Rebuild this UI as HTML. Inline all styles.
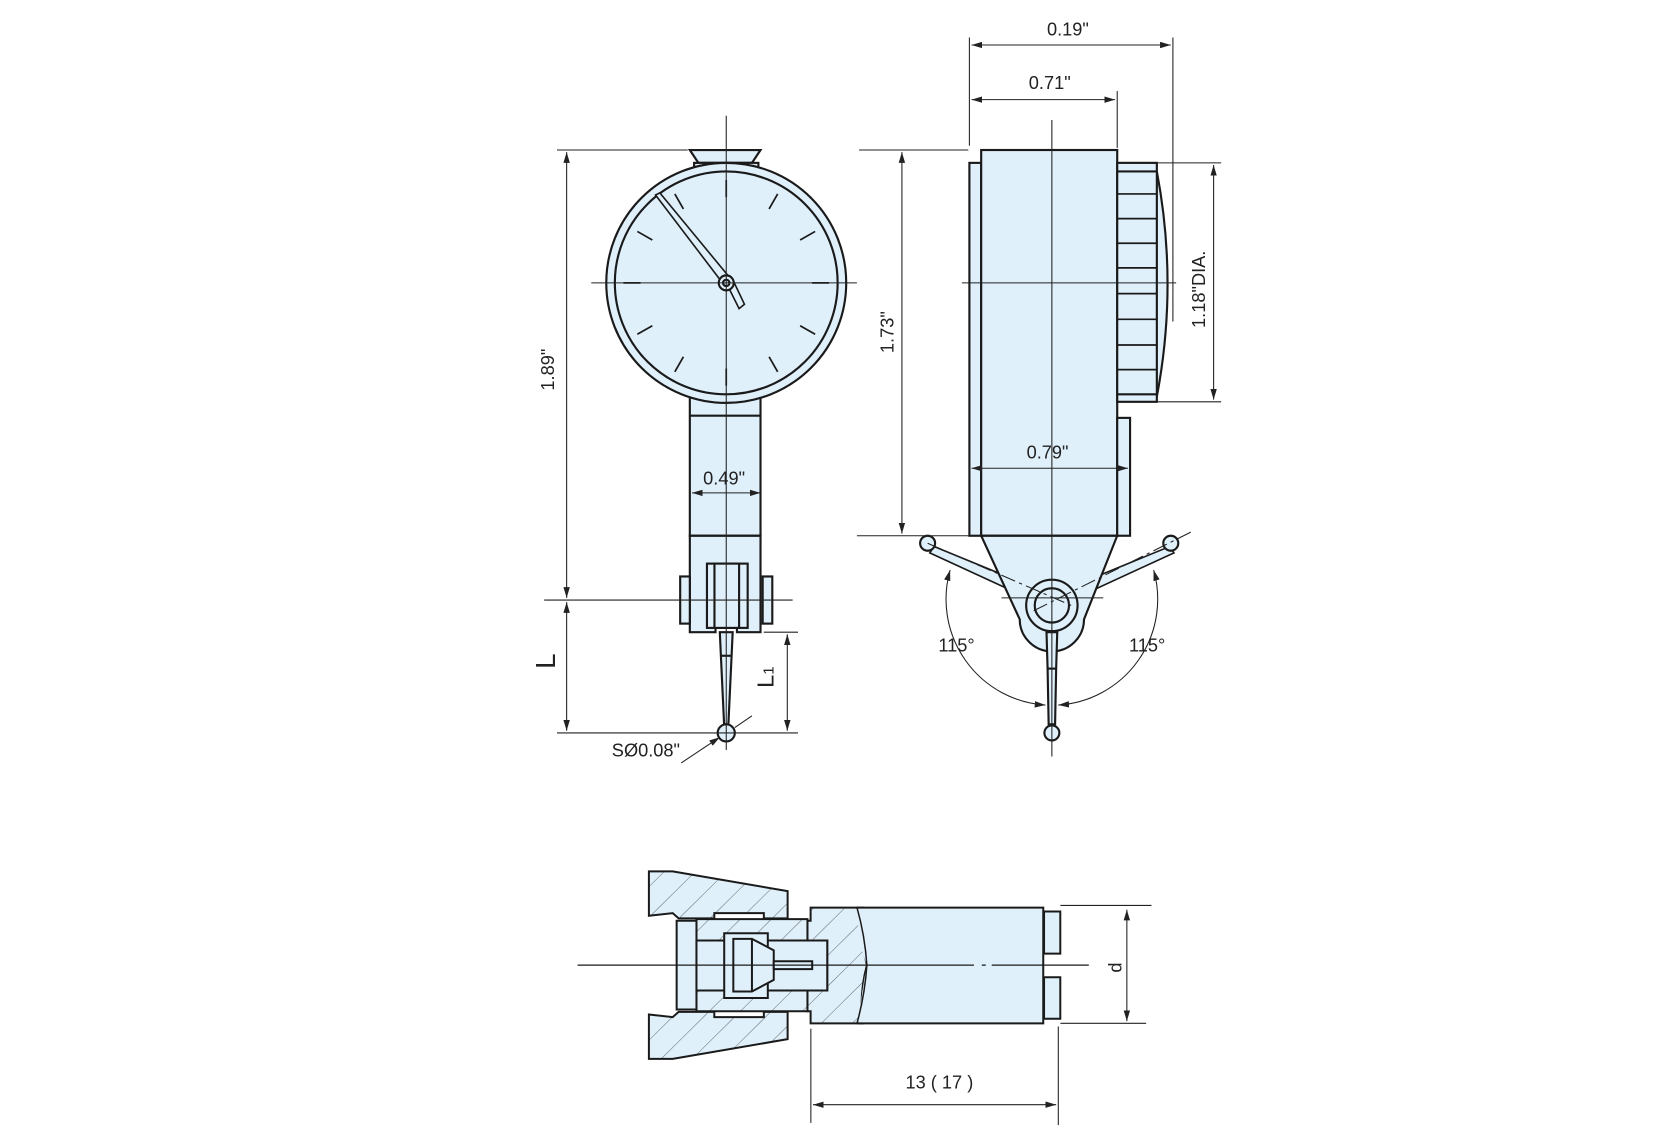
<!DOCTYPE html>
<html><head><meta charset="utf-8"><style>
html,body{margin:0;padding:0;background:#fff;}
svg{display:block}
text{font-family:"Liberation Sans",sans-serif;fill:#222}
</style></head><body>
<svg width="1671" height="1139" viewBox="0 0 1560 1063" preserveAspectRatio="none" xmlns="http://www.w3.org/2000/svg">
<defs>
<marker id="a" viewBox="0 0 10 6" refX="10" refY="3" markerWidth="10" markerHeight="6" orient="auto-start-reverse" markerUnits="userSpaceOnUse"><path d="M0,0 L10,3 L0,6 Z" fill="#222"/></marker>
<pattern id="h" patternUnits="userSpaceOnUse" width="60" height="60" patternTransform="rotate(40)"><rect width="60" height="60" fill="#dff0fb"/><line x1="0" y1="0" x2="0" y2="60" stroke="#333" stroke-width="2"/></pattern>
</defs>
<g stroke="#1a1a1a" fill="#dff0fb" stroke-width="2">
<!-- LEFT VIEW -->
<path d="M644,140 L710,140 L702,152 L652,152 Z"/>
<rect x="648" y="152" width="60" height="8"/>
<rect x="644" y="370" width="66" height="130"/>
<line x1="644" y1="388" x2="710" y2="388"/>
<circle cx="678" cy="264" r="112"/>
<circle cx="678" cy="264" r="104"/>
<g stroke-width="1.6">
<line x1="678" y1="168" x2="678" y2="184"/><line x1="726" y1="181" x2="718" y2="195"/><line x1="761" y1="216" x2="747" y2="224"/><line x1="774" y1="264" x2="758" y2="264"/><line x1="761" y1="312" x2="747" y2="304"/><line x1="726" y1="347" x2="718" y2="333"/><line x1="678" y1="360" x2="678" y2="344"/><line x1="630" y1="347" x2="638" y2="333"/><line x1="595" y1="312" x2="609" y2="304"/><line x1="582" y1="264" x2="598" y2="264"/><line x1="595" y1="216" x2="609" y2="224"/><line x1="630" y1="181" x2="638" y2="195"/>
</g>
<path d="M612,182 L616,180 L682,260 L676,266 Z" stroke-width="1.5"/>
<path d="M680,268 L685,263 L695,284 L690,288 Z" stroke-width="1.5"/>
<circle cx="678" cy="264" r="7"/><circle cx="678" cy="264" r="3"/>
<path d="M644,500 L710,500 L710,590 L688,590 L688,585 L668,585 L668,590 L644,590 Z"/>
<rect x="635" y="538" width="9" height="44"/>
<rect x="712" y="538" width="9" height="44"/>
<rect x="660" y="526" width="38" height="60"/>
<rect x="667" y="526" width="23" height="60"/>
<path d="M672,590 L684,590 L683,612 L680,676 L676,676 L673,612 Z"/>
<line x1="673" y1="612" x2="683" y2="612"/>
<circle cx="678" cy="684" r="8"/>
<!-- RIGHT VIEW -->
<rect x="905" y="152" width="11" height="348"/>
<rect x="916" y="140" width="127" height="360"/>
<path d="M1080,160 Q1100,265 1080,370" fill="#dff0fb"/>
<rect x="1043" y="152" width="37" height="223"/>
<line x1="1043" y1="160" x2="1080" y2="160"/><line x1="1043" y1="368" x2="1080" y2="368"/>
<g stroke-width="1.6"><line x1="1043" y1="181" x2="1080" y2="181"/><line x1="1043" y1="204" x2="1080" y2="204"/><line x1="1043" y1="227" x2="1080" y2="227"/><line x1="1043" y1="250" x2="1080" y2="250"/><line x1="1043" y1="274" x2="1080" y2="274"/><line x1="1043" y1="298" x2="1080" y2="298"/><line x1="1043" y1="322" x2="1080" y2="322"/><line x1="1043" y1="345" x2="1080" y2="345"/></g>
<rect x="1043" y="390" width="12" height="110"/>
<path d="M872,510 L945,540 L942,550 L868,516 Z" stroke-width="1.5"/>
<path d="M1092,510 L1019,540 L1022,550 L1096,516 Z" stroke-width="1.5"/>
<circle cx="866" cy="507" r="7"/><circle cx="1093" cy="507" r="7"/>
<path d="M916,500 L1043,500 L1012,578 A30,30 0 0 1 952,578 Z"/>
<circle cx="982" cy="565" r="24"/><circle cx="982" cy="565" r="16"/>
<path d="M977,590 L987,590 L986,624 L985,676 L979,676 L978,624 Z"/>
<line x1="978" y1="624" x2="986" y2="624"/>
<circle cx="982" cy="684" r="7"/>
</g>
<!-- BOTTOM VIEW -->
<g transform="translate(517,771.8) scale(0.37,0.307)" stroke="#1a1a1a" stroke-width="2" fill="#dff0fb">
<g vector-effect="non-scaling-stroke">
<path vector-effect="non-scaling-stroke" fill="url(#h)" d="M240,135 L300,135 L590,195 L590,278 L530,278 L530,262 L405,262 L405,278 L315,278 L300,262 L240,270 Z"/>
<path vector-effect="non-scaling-stroke" fill="url(#h)" d="M240,705 L300,705 L590,645 L590,562 L530,562 L530,578 L405,578 L405,562 L315,562 L300,578 L240,570 Z"/>
<path vector-effect="non-scaling-stroke" fill="url(#h)" d="M648,245 L780,245 Q770,330 790,420 Q770,510 780,597 L648,597 L648,560 L640,560 L640,497 L690,497 L690,345 L640,345 L640,285 L648,285 Z"/>
<path vector-effect="non-scaling-stroke" fill="#dff0fb" d="M770,245 L1235,245 L1235,597 L770,597 Q775,510 790,420 Q760,330 770,245 Z" stroke="none"/>
<path vector-effect="non-scaling-stroke" fill="none" d="M765,245 L1235,245 L1235,597 L765,597"/>
<path vector-effect="non-scaling-stroke" fill="none" d="M765,245 Q785,330 790,420 Q785,510 765,597" stroke-width="1.5"/>
<rect vector-effect="non-scaling-stroke" fill="url(#h)" x="360" y="280" width="280" height="65"/>
<rect vector-effect="non-scaling-stroke" fill="url(#h)" x="360" y="495" width="280" height="65"/>
<rect vector-effect="non-scaling-stroke" x="310" y="285" width="50" height="270"/>
<rect vector-effect="non-scaling-stroke" x="360" y="345" width="330" height="152"/>
<rect vector-effect="non-scaling-stroke" x="430" y="323" width="110" height="197"/>
<path vector-effect="non-scaling-stroke" d="M453,340 L500,340 L555,375 L555,465 L500,500 L453,500 Z"/>
<line vector-effect="non-scaling-stroke" x1="500" y1="340" x2="500" y2="500"/>
<rect vector-effect="non-scaling-stroke" x="555" y="408" width="97" height="24"/>
<rect vector-effect="non-scaling-stroke" x="1237" y="257" width="41" height="128"/>
<rect vector-effect="non-scaling-stroke" x="1237" y="457" width="41" height="126"/>
<path vector-effect="non-scaling-stroke" d="M60,420 L1060,420 M1080,420 L1090,420 M1105,420 L1350,420" stroke-width="1.2" fill="none"/>
</g></g>
<!-- dims / center lines -->
<g stroke="#222" stroke-width="1" fill="none">
<line x1="678" y1="108" x2="678" y2="700"/>
<line x1="552" y1="264" x2="800" y2="264"/>
<line x1="520" y1="140" x2="642" y2="140"/>
<line x1="508" y1="560" x2="740" y2="560"/>
<line x1="520" y1="684" x2="745" y2="684"/>
<line x1="713" y1="590" x2="745" y2="590"/>
<line x1="529" y1="142" x2="529" y2="558" marker-start="url(#a)" marker-end="url(#a)"/>
<line x1="529" y1="562" x2="529" y2="682" marker-start="url(#a)" marker-end="url(#a)"/>
<line x1="735" y1="592" x2="735" y2="682" marker-start="url(#a)" marker-end="url(#a)"/>
<line x1="646" y1="460" x2="710" y2="460" marker-start="url(#a)" marker-end="url(#a)"/>
<line x1="636" y1="712" x2="672" y2="688" marker-end="url(#a)"/>
<line x1="686" y1="679" x2="702" y2="668"/>
<line x1="982" y1="112" x2="982" y2="706"/>
<line x1="898" y1="264" x2="1098" y2="264"/>
<line x1="935" y1="558" x2="1030" y2="558"/>
<line x1="905" y1="35" x2="905" y2="136"/>
<line x1="1095" y1="35" x2="1095" y2="300"/>
<line x1="1043" y1="85" x2="1043" y2="138"/>
<line x1="907" y1="42" x2="1093" y2="42" marker-start="url(#a)" marker-end="url(#a)"/>
<line x1="907" y1="93" x2="1041" y2="93" marker-start="url(#a)" marker-end="url(#a)"/>
<line x1="802" y1="140" x2="904" y2="140"/>
<line x1="800" y1="500" x2="905" y2="500"/>
<line x1="842" y1="142" x2="842" y2="498" marker-start="url(#a)" marker-end="url(#a)"/>
<line x1="1080" y1="152" x2="1140" y2="152"/>
<line x1="1080" y1="375" x2="1140" y2="375"/>
<line x1="1133" y1="154" x2="1133" y2="373" marker-start="url(#a)" marker-end="url(#a)"/>
<line x1="907" y1="437" x2="1053" y2="437" marker-start="url(#a)" marker-end="url(#a)"/>
<line x1="866" y1="507" x2="1000" y2="565" stroke-dasharray="14,4,3,4"/>
<line x1="965" y1="570" x2="1115" y2="495" stroke-dasharray="14,4,3,4"/>
<path d="M887,532 A99,99 0 0 0 976,658" marker-start="url(#a)" marker-end="url(#a)"/>
<path d="M1077,532 A99,99 0 0 1 988,658" marker-start="url(#a)" marker-end="url(#a)"/>
<line x1="990" y1="845" x2="1075" y2="845"/>
<line x1="990" y1="955" x2="1070" y2="955"/>
<line x1="1052" y1="849" x2="1052" y2="953" marker-start="url(#a)" marker-end="url(#a)"/>
<line x1="757" y1="960" x2="757" y2="1048"/>
<line x1="988" y1="958" x2="988" y2="1050"/>
<line x1="759" y1="1031" x2="986" y2="1031" marker-start="url(#a)" marker-end="url(#a)"/>
</g>
<g font-size="17">
<text x="997" y="33" text-anchor="middle">0.19"</text>
<text x="980" y="83" text-anchor="middle">0.71"</text>
<text x="978" y="428" text-anchor="middle">0.79"</text>
<text x="676" y="452" text-anchor="middle">0.49"</text>
<text x="603" y="706" text-anchor="middle">SØ0.08"</text>
<text x="893" y="608" text-anchor="middle">115°</text>
<text x="1071" y="608" text-anchor="middle">115°</text>
<text x="877" y="1016" text-anchor="middle">13 ( 17 )</text>
<text transform="translate(517,345) rotate(-90)" text-anchor="middle">1.89"</text>
<text transform="translate(834,310) rotate(-90)" text-anchor="middle">1.73"</text>
<text transform="translate(1125,270) rotate(-90)" text-anchor="middle">1.18"DIA.</text>
<text transform="translate(1047,903) rotate(-90)" text-anchor="middle">d</text>
<text transform="translate(518,617) rotate(-90)" text-anchor="middle" font-size="26">L</text>
<text transform="translate(722,632) rotate(-90)" text-anchor="middle" font-size="22">L<tspan font-size="14">1</tspan></text>
</g>
</svg>
</body></html>
